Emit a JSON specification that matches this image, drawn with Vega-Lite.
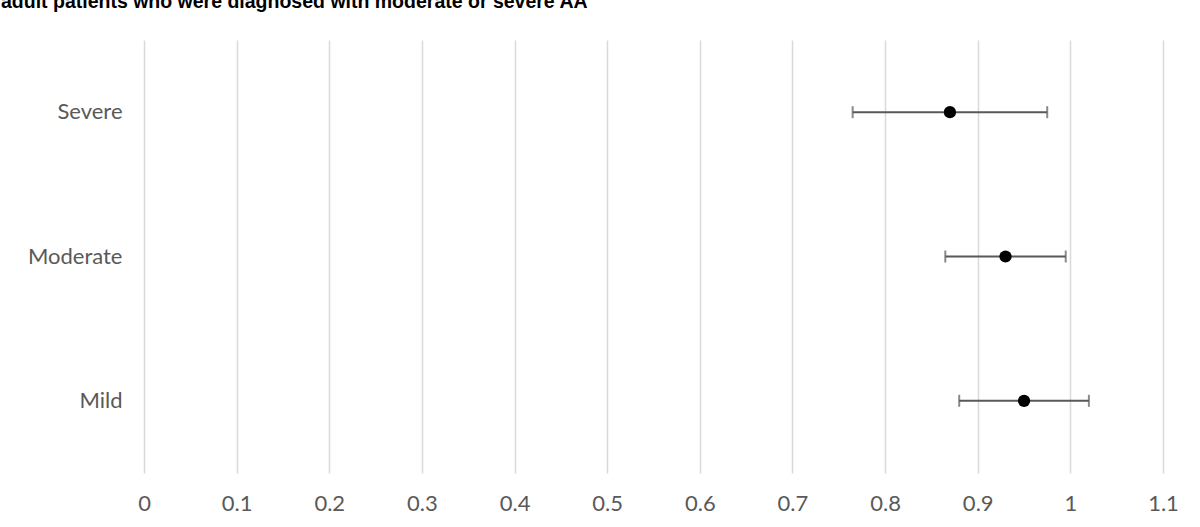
{
  "$schema": "https://vega.github.io/schema/vega-lite/v6.json",
  "width": 1019,
  "height": 433,
  "autosize": {"type": "none"},
  "padding": {"left": 144, "top": 40, "right": 37, "bottom": 54},
  "background": "white",
  "title": {
    "text": "adult patients who were diagnosed with moderate or severe AA",
    "anchor": "start",
    "frame": "group",
    "dx": -143,
    "offset": 13,
    "baseline": "alphabetic",
    "font": "Liberation Sans",
    "fontSize": 19.5,
    "fontWeight": "bold",
    "color": "#000000"
  },
  "data": {
    "values": [
      {"severity": "Severe", "estimate": 0.87, "lower": 0.765, "upper": 0.975},
      {"severity": "Moderate", "estimate": 0.93, "lower": 0.865, "upper": 0.995},
      {"severity": "Mild", "estimate": 0.95, "lower": 0.88, "upper": 1.02}
    ]
  },
  "encoding": {
    "y": {
      "field": "severity",
      "type": "nominal",
      "sort": ["Severe", "Moderate", "Mild"],
      "title": null,
      "axis": {
        "domain": false,
        "ticks": false,
        "tickSize": 0,
        "grid": false,
        "labelFont": "Lato",
        "labelFontSize": 22,
        "labelColor": "#595959",
        "labelPadding": 22
      }
    }
  },
  "layer": [
    {
      "mark": {"type": "rule", "color": "#595959", "strokeWidth": 2},
      "encoding": {
        "x": {
          "field": "lower",
          "type": "quantitative",
          "scale": {"domain": [0, 1.1], "nice": false, "zero": false},
          "axis": {
            "values": [0, 0.1, 0.2, 0.3, 0.4, 0.5, 0.6, 0.7, 0.8, 0.9, 1, 1.1],
            "format": "~g",
            "grid": true,
            "gridColor": "#d9d9d9",
            "gridWidth": 1.5,
            "domain": false,
            "ticks": false,
            "tickSize": 0,
            "labelFont": "Lato",
            "labelFontSize": 22,
            "labelColor": "#595959",
            "labelPadding": 20,
            "labelFlush": false,
            "labelOverlap": false,
            "title": null
          }
        },
        "x2": {"field": "upper"}
      }
    },
    {
      "mark": {"type": "tick", "orient": "vertical", "color": "#595959", "thickness": 2, "size": 12},
      "encoding": {"x": {"field": "lower", "type": "quantitative"}}
    },
    {
      "mark": {"type": "tick", "orient": "vertical", "color": "#595959", "thickness": 2, "size": 12},
      "encoding": {"x": {"field": "upper", "type": "quantitative"}}
    },
    {
      "mark": {"type": "point", "filled": true, "color": "#000000", "size": 150, "opacity": 1},
      "encoding": {"x": {"field": "estimate", "type": "quantitative"}}
    }
  ],
  "config": {"view": {"stroke": null}}
}
